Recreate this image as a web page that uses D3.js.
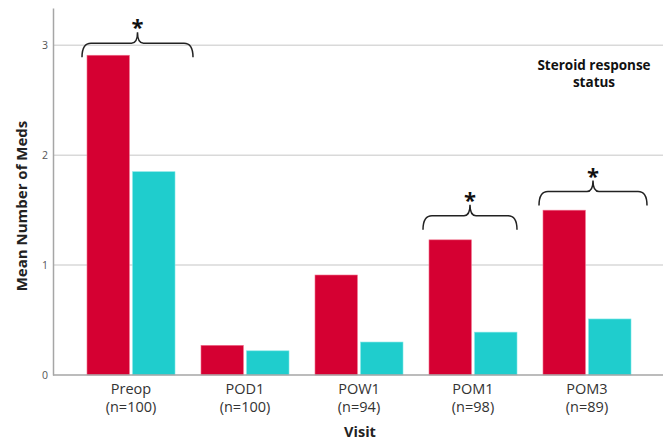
<!DOCTYPE html>
<html>
<head>
<meta charset="utf-8">
<script src="https://cdn.jsdelivr.net/npm/d3@7"></script>
<style>
  body { margin: 0; background: #fff; }
  text { font-family: "Open Sans", "Noto Sans", sans-serif; }
</style>
</head>
<body>
<div id="chart"></div>
<script>
// data
var visits = ["Preop", "POD1", "POW1", "POM1", "POM3"];
var visitN = ["(n=100)", "(n=100)", "(n=94)", "(n=98)", "(n=89)"];
var groups = ["Non-responder", "Responder"];
var nonResponder = [2.91, 0.27, 0.91, 1.23, 1.50];
var responder = [1.85, 0.22, 0.30, 0.39, 0.51];
var yTicks = [0, 1, 2, 3];
// significance braces: which visit and the level of the brace (in y units)
var braceVisits = ["Preop", "POM1", "POM3"];
var braceLevels = [3.02, 1.45, 1.67];
var legendTitle = ["Steroid response", "status"];

var width = 671, height = 441;
var colors = { "Non-responder": "#d50032", "Responder": "#1fcdcd" };

var svg = d3.select("#chart").append("svg")
    .attr("width", width)
    .attr("height", height);

var y = d3.scaleLinear().domain([0, 3.34]).range([375, 8]);

var x0 = d3.scaleBand()
    .domain(visits)
    .range([74, 644])
    .paddingInner(0.228)
    .paddingOuter(0.114);

var x1 = d3.scaleBand()
    .domain(groups)
    .range([0, x0.bandwidth()])
    .paddingInner(0.07);

var rows = visits.map(function(v, i) {
    return { visit: v, n: visitN[i], values: [
        { key: groups[0], value: nonResponder[i] },
        { key: groups[1], value: responder[i] }
    ]};
});

// gridlines
svg.append("g")
    .selectAll("line")
    .data(yTicks.filter(function(d) { return d > 0; }))
    .enter().append("line")
    .attr("x1", 53).attr("x2", 663)
    .attr("y1", function(d) { return y(d); })
    .attr("y2", function(d) { return y(d); })
    .attr("stroke", "#d9d9d9")
    .attr("stroke-width", 1.5);

// bars
svg.append("g")
    .selectAll("g")
    .data(rows)
    .enter().append("g")
    .attr("transform", function(d) { return "translate(" + x0(d.visit) + ",0)"; })
    .selectAll("rect")
    .data(function(d) { return d.values; })
    .enter().append("rect")
    .attr("x", function(d) { return x1(d.key); })
    .attr("y", function(d) { return y(d.value); })
    .attr("width", x1.bandwidth())
    .attr("height", function(d) { return y(0) - y(d.value); })
    .attr("fill", function(d) { return colors[d.key]; })
    .attr("stroke", function(d) { return d.key == groups[0] ? "#f06f8c" : "#7fe6e6"; })
    .attr("stroke-width", 0.6);

// y axis
var yAxis = d3.axisLeft(y).tickValues(yTicks).tickSize(0).tickPadding(5).tickFormat(d3.format("d"));
var yg = svg.append("g").attr("transform", "translate(53,0)").call(yAxis);
yg.select(".domain").attr("stroke", "#a6a6a6").attr("stroke-width", 1.5);
yg.selectAll("text").attr("font-size", 10.5).attr("fill", "#555").attr("font-family", "Open Sans, sans-serif");

// baseline
svg.append("line")
    .attr("x1", 53).attr("x2", 663)
    .attr("y1", y(0)).attr("y2", y(0))
    .attr("stroke", "#a6a6a6")
    .attr("stroke-width", 1.5);

// x labels, two lines each
var lab = svg.append("g").selectAll("g")
    .data(rows)
    .enter().append("g")
    .attr("transform", function(d) { return "translate(" + (x0(d.visit) + x0.bandwidth() / 2) + ",0)"; });
lab.append("text")
    .attr("y", 394)
    .attr("text-anchor", "middle")
    .attr("font-size", 14.5)
    .attr("fill", "#333")
    .text(function(d) { return d.visit; });
lab.append("text")
    .attr("y", 412)
    .attr("text-anchor", "middle")
    .attr("font-size", 14.5)
    .attr("fill", "#333")
    .text(function(d) { return d.n; });

// axis titles
svg.append("text")
    .attr("x", 360).attr("y", 437)
    .attr("text-anchor", "middle")
    .attr("font-size", 14.5).attr("font-weight", "bold")
    .attr("fill", "#222")
    .text("Visit");

svg.append("text")
    .attr("transform", "translate(27,206) rotate(-90)")
    .attr("text-anchor", "middle")
    .attr("font-size", 15).attr("font-weight", "bold")
    .attr("fill", "#222")
    .text("Mean Number of Meds");

// legend title (no items shown in the figure)
svg.append("g").selectAll("text")
    .data(legendTitle)
    .enter().append("text")
    .attr("x", 594)
    .attr("y", function(d, i) { return 70 + i * 17; })
    .attr("text-anchor", "middle")
    .attr("font-size", 13.5).attr("font-weight", "bold")
    .attr("fill", "#111")
    .text(function(d) { return d; });

// braces with asterisks
var bracePad = { "Preop": [-5, 18], "POM1": [-6, 0], "POM3": [-4, 16] };
braceVisits.forEach(function(v, i) {
    var left = x0(v) + bracePad[v][0];
    var right = x0(v) + x0.bandwidth() + bracePad[v][1];
    var mid = (left + right) / 2;
    var top = y(braceLevels[i]);
    var bottom = top + 14;
    var peak = top - 11;
    var p = "M" + left + "," + bottom +
        " Q" + left + "," + top + " " + (left + 9) + "," + top +
        " L" + (mid - 6) + "," + top +
        " Q" + mid + "," + top + " " + mid + "," + peak +
        " Q" + mid + "," + top + " " + (mid + 6) + "," + top +
        " L" + (right - 9) + "," + top +
        " Q" + right + "," + top + " " + right + "," + bottom;
    svg.append("path")
        .attr("d", p)
        .attr("fill", "none")
        .attr("stroke", "#222")
        .attr("stroke-width", 1.5);
    svg.append("text")
        .attr("x", mid)
        .attr("y", peak + 3)
        .attr("text-anchor", "middle")
        .attr("font-size", 22)
        .attr("font-weight", "bold")
        .attr("fill", "#111")
        .text("*");
});
</script>
</body>
</html>
